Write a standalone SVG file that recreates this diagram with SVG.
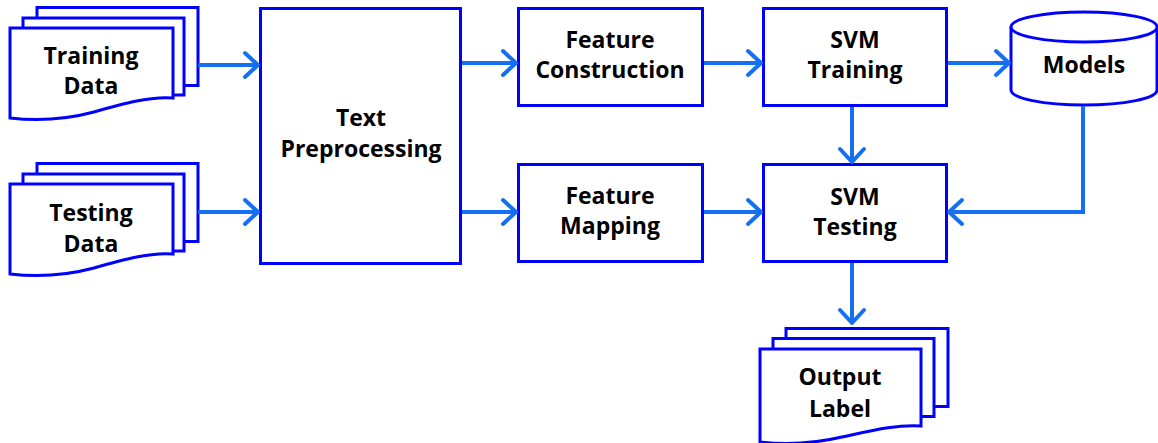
<svg xmlns="http://www.w3.org/2000/svg" width="1158" height="443" viewBox="0 0 1158 443">
  <style>
    .box { fill: #ffffff; stroke: #0000ff; stroke-width: 3; }
    .sheet { fill: #ffffff; stroke: #0000ff; stroke-width: 3; stroke-linejoin: miter; }
    .lbl { font-family: "Open Sans", "DejaVu Sans", sans-serif; font-weight: 700; font-size: 23px; fill: #000000; text-anchor: middle; }
    .flow { fill: none; stroke: #1470f0; stroke-width: 4; }
  </style>
  <defs>
    <marker id="arrow" markerUnits="userSpaceOnUse" markerWidth="30" markerHeight="30" refX="0" refY="0" viewBox="-16 -15 20 30" orient="auto" overflow="visible">
      <path d="M-13,-12 L0,0 L-13,12" fill="none" stroke="#1470f0" stroke-width="4" stroke-linecap="round" stroke-linejoin="round"/>
    </marker>
  </defs>

  <rect width="1158" height="443" fill="#ffffff"/>

  <!-- input document stack: training data -->
  <g id="training-data">
    <rect class="sheet" x="37" y="7.5" width="161" height="78"/>
    <rect class="sheet" x="23" y="18" width="161" height="77"/>
    <path class="sheet" d="M10,28 H173 V98 C150,96 122,104 94,112 C64,120 36,121 10,118 Z"/>
    <text class="lbl" x="91" y="64">Training</text>
    <text class="lbl" x="91" y="94">Data</text>
  </g>

  <!-- input document stack: testing data -->
  <g id="testing-data">
    <rect class="sheet" x="37" y="163.5" width="161" height="78"/>
    <rect class="sheet" x="23" y="174" width="161" height="77"/>
    <path class="sheet" d="M10,184 H173 V254 C150,252 122,260 94,268 C64,276 36,277 10,274 Z"/>
    <text class="lbl" x="91" y="221">Testing</text>
    <text class="lbl" x="91" y="252">Data</text>
  </g>

  <g id="text-preprocessing">
    <rect class="box" x="260.5" y="8.5" width="200" height="255"/>
    <text class="lbl" x="361" y="126">Text</text>
    <text class="lbl" x="361" y="157">Preprocessing</text>
  </g>

  <g id="feature-construction">
    <rect class="box" x="518.5" y="8.5" width="184" height="97"/>
    <text class="lbl" x="610" y="48">Feature</text>
    <text class="lbl" x="610" y="78">Construction</text>
  </g>

  <g id="feature-mapping">
    <rect class="box" x="518.5" y="164.5" width="184" height="97"/>
    <text class="lbl" x="610" y="204">Feature</text>
    <text class="lbl" x="610" y="234">Mapping</text>
  </g>

  <g id="svm-training">
    <rect class="box" x="763.5" y="8.5" width="183" height="97"/>
    <text class="lbl" x="855" y="48">SVM</text>
    <text class="lbl" x="855" y="78">Training</text>
  </g>

  <g id="svm-testing">
    <rect class="box" x="763.5" y="164.5" width="183" height="97"/>
    <text class="lbl" x="855" y="205">SVM</text>
    <text class="lbl" x="855" y="235">Testing</text>
  </g>

  <!-- model store drawn as a cylinder -->
  <g id="models">
    <path class="sheet" d="M1011,27 V90 A73,15 0 0 0 1157,90 V27"/>
    <ellipse class="sheet" cx="1084" cy="27" rx="73" ry="15"/>
    <text class="lbl" x="1084" y="73">Models</text>
  </g>

  <!-- output document stack -->
  <g id="output-label">
    <rect class="sheet" x="786" y="328.5" width="162" height="78"/>
    <rect class="sheet" x="773" y="338.5" width="161" height="78"/>
    <path class="sheet" d="M760,349 H921 V426 C898,424 870,431 842,437 C812,444 786,445 760,442 Z"/>
    <text class="lbl" x="840" y="385">Output</text>
    <text class="lbl" x="840" y="417">Label</text>
  </g>

  <g id="connectors">
    <path class="flow" d="M198,65 H258" marker-end="url(#arrow)"/>
    <path class="flow" d="M198,212 H258" marker-end="url(#arrow)"/>
    <path class="flow" d="M462,63 H516" marker-end="url(#arrow)"/>
    <path class="flow" d="M462,212 H516" marker-end="url(#arrow)"/>
    <path class="flow" d="M704,63 H761" marker-end="url(#arrow)"/>
    <path class="flow" d="M704,212 H761" marker-end="url(#arrow)"/>
    <path class="flow" d="M948,63 H1009" marker-end="url(#arrow)"/>
    <path class="flow" d="M852,107 V162" marker-end="url(#arrow)"/>
    <path class="flow" d="M1083,106 V212 H949" marker-end="url(#arrow)"/>
    <path class="flow" d="M852,263 V323" marker-end="url(#arrow)"/>
  </g>
</svg>
